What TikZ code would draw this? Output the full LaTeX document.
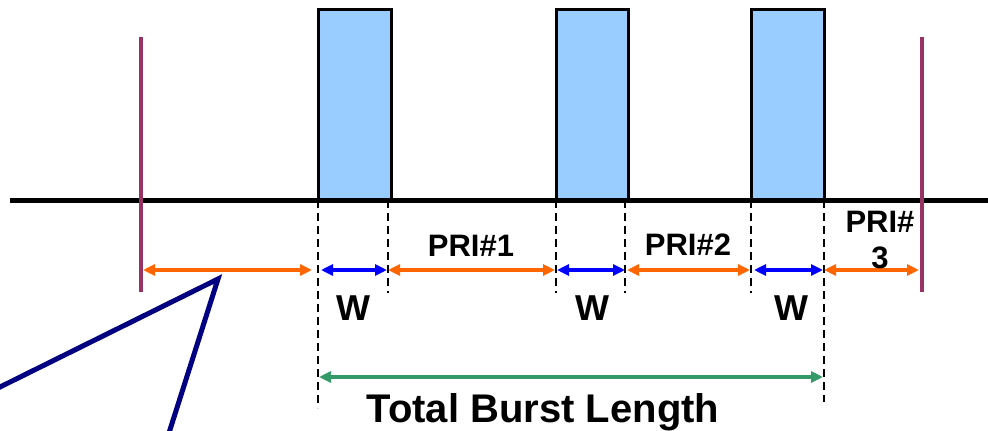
\documentclass[tikz,border=0pt]{standalone}
\usepackage{fontspec}
\setmainfont{Liberation Sans}
\usetikzlibrary{arrows.meta}
\definecolor{pulsefill}{HTML}{99CCFF}
\definecolor{marker}{HTML}{993366}
\definecolor{pri}{HTML}{FF6600}
\definecolor{wblue}{HTML}{0000FF}
\definecolor{tbl}{HTML}{339966}
\definecolor{navyc}{HTML}{000080}
\tikzset{
  pulse/.style={draw=black,line width=3pt,fill=pulsefill},
  guide/.style={draw=black,line width=2.5pt,dash pattern=on 8pt off 5pt},
  bound/.style={draw=marker,line width=4.5pt},
  dim/.style={line width=4pt,{Triangle[length=12pt,width=11pt]}-{Triangle[length=12pt,width=11pt]}},
  lbl/.style={inner sep=0pt,anchor=base,font=\bfseries\fontsize{31}{31}\selectfont},
  wlbl/.style={inner sep=0pt,anchor=base,font=\bfseries\fontsize{36}{36}\selectfont},
  biglbl/.style={inner sep=0pt,anchor=base,font=\bfseries\fontsize{40}{40}\selectfont},
}
\begin{document}
\begin{tikzpicture}[x=1pt,y=-1pt]
\useasboundingbox (0,0) rectangle (988,431);
% pulses
\draw[pulse] (318,9) rectangle (391,200);
\draw[pulse] (556,9) rectangle (628,200);
\draw[pulse] (751,9) rectangle (824,200);
% baseline
\coordinate (bl) at (10,200);
\coordinate (br) at (988,200);
\draw[line width=5pt] (bl) -- (br);
% boundary markers
\coordinate (m1t) at (141,37); \coordinate (m1b) at (141,292);
\coordinate (m2t) at (922,37); \coordinate (m2b) at (922,292);
\draw[bound] (m1t) -- (m1b);
\draw[bound] (m2t) -- (m2b);
% guides
\coordinate (g1t) at (318,200); \coordinate (g1b) at (318,408);
\coordinate (g2t) at (388,200); \coordinate (g2b) at (388,293);
\coordinate (g3t) at (556,200); \coordinate (g3b) at (556,293);
\coordinate (g4t) at (625,200); \coordinate (g4b) at (625,293);
\coordinate (g5t) at (751,200); \coordinate (g5b) at (751,293);
\coordinate (g6t) at (824,200); \coordinate (g6b) at (824,402);
\foreach \g in {1,...,6} \draw[guide] (g\g t) -- (g\g b);
% dimension arrows
\coordinate (a0) at (143,270); \coordinate (a1) at (312,270);
\coordinate (b0) at (321,270); \coordinate (b1) at (387,270);
\coordinate (c0) at (388,270); \coordinate (c1) at (555,270);
\coordinate (d0) at (557,270); \coordinate (d1) at (625,270);
\coordinate (e0) at (627,270); \coordinate (e1) at (750,270);
\coordinate (f0) at (754,270); \coordinate (f1) at (823,270);
\coordinate (h0) at (824,270); \coordinate (h1) at (919,270);
\draw[dim,pri] (a0) -- (a1);
\draw[dim,wblue] (b0) -- (b1);
\draw[dim,pri] (c0) -- (c1);
\draw[dim,wblue] (d0) -- (d1);
\draw[dim,pri] (e0) -- (e1);
\draw[dim,wblue] (f0) -- (f1);
\draw[dim,pri] (h0) -- (h1);
\coordinate (t0) at (319,377); \coordinate (t1) at (823,377);
\draw[dim,tbl] (t0) -- (t1);
% labels
\node[lbl] (p1) at (471,256) {PRI\#1};
\node[lbl] (p2) at (688,255) {PRI\#2};
\node[lbl] (p3a) at (880,232) {PRI\#};
\node[lbl] (p3b) at (880,268) {3};
\node[wlbl] (w1) at (353,320) {W};
\node[wlbl] (w2) at (592,320) {W};
\node[wlbl] (w3) at (791,320) {W};
\node[biglbl] (tb) at (543,422) {Total Burst Length};
% callout
\coordinate (cl) at (-2,388);
\coordinate (ca) at (218,279);
\coordinate (cb) at (168,436);
\draw[navyc,line width=5pt,line join=miter] (cl) -- (ca) -- (cb);
\end{tikzpicture}
\end{document}
